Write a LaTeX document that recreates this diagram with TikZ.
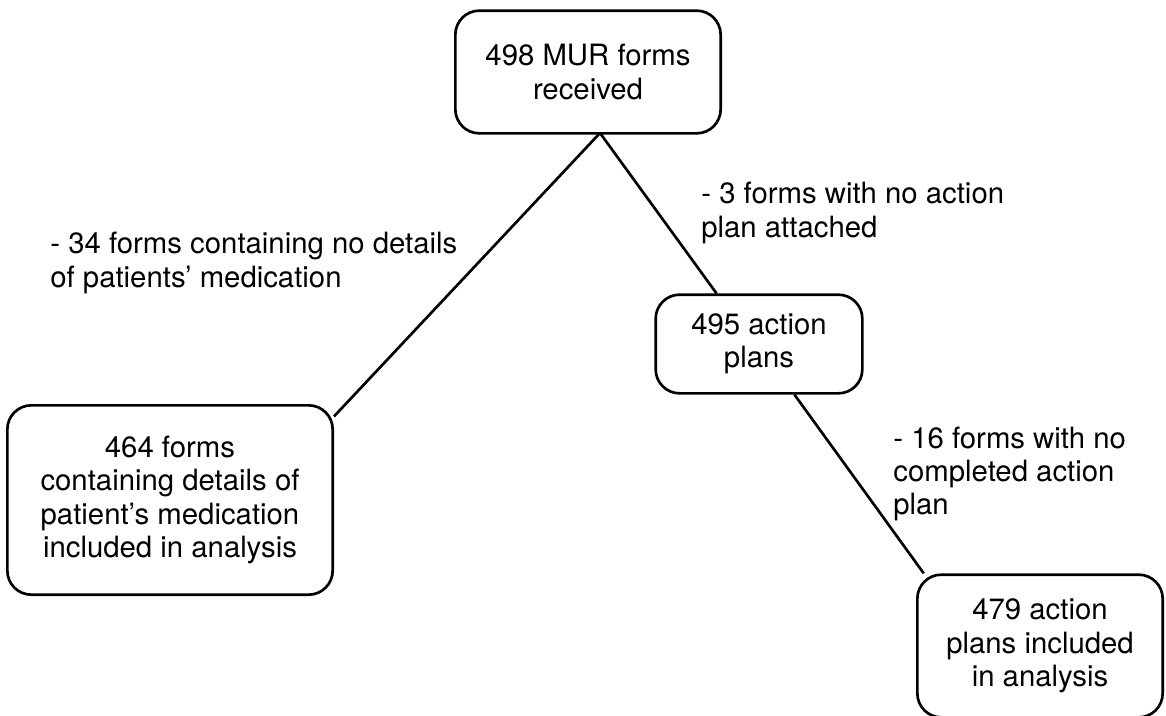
\documentclass[tikz,border=0pt]{standalone}
\usepackage{fontspec}
\setmainfont{TeX Gyre Heros}
\usetikzlibrary{positioning}
\tikzset{font=\fontsize{22}{25}\selectfont,
  box/.style={draw,rounded corners=18pt,align=center,inner sep=0pt},
  note/.style={anchor=west,align=left,inner sep=0pt}}

\begin{document}
\begin{tikzpicture}[x=0.75pt,y=-0.75pt,line width=2pt]
\useasboundingbox (0,0) rectangle (1166,715);
\node[box,minimum width=199pt,minimum height=92pt] (rcvd) at (588,72) {498 MUR forms\\received};
\node[box,minimum width=244pt,minimum height=142pt] (incl) at (170,500) {464 forms\\containing details of\\patient's medication\\included in analysis};
\node[box,minimum width=155pt,minimum height=74pt] (plans) at (759,344) {495 action\\plans};
\node[box,minimum width=184pt,minimum height=107pt] (final) at (1040,646) {479 action\\plans included\\in analysis};
\coordinate (split) at (600,133);

\node[note] (cut34) at (49,263) {- 34 forms containing no details\\of patients' medication};
\node[note] (cut3) at (700,213) {- 3 forms with no action\\plan attached};
\node[note] (cut16) at (892,474) {- 16 forms with no\\completed action\\plan};

\draw (split) -- (incl.27);
\draw (split) -- (plans.130);
\draw (plans.-55) -- (final.148);
\end{tikzpicture}
\end{document}
